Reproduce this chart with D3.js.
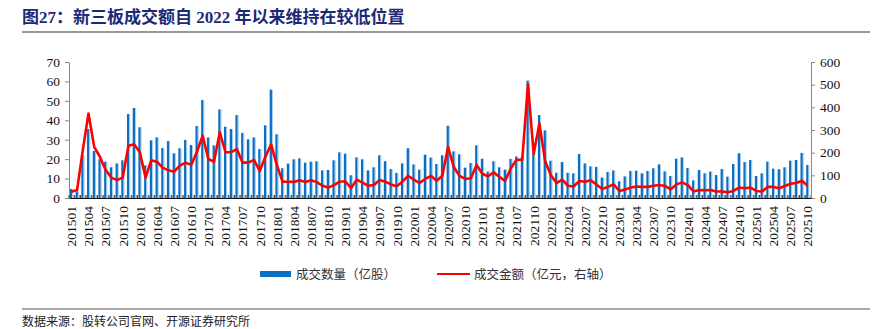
<!DOCTYPE html>
<html>
<head>
<meta charset="utf-8">
<script src="https://cdn.jsdelivr.net/npm/d3@7"></script>
<style>
  body { margin: 0; background: #fff; }
  svg { display: block; }
</style>
</head>
<body>
<svg id="chart"></svg>
<script>
// months 201501 .. 202510
const months = [];
for (let y = 2015; y <= 2025; y++) {
  for (let m = 1; m <= 12; m++) {
    if (y === 2025 && m > 10) break;
    months.push(String(y) + String(m).padStart(2, "0"));
  }
}

// 成交数量（亿股）
const volume = [
  4.6, 3.5, 22, 35.5, 24.2, 20, 18.7, 15.8, 17.8, 19.4, 43.2, 46.3,
  36.4, 16.8, 29.7, 31.2, 25.7, 29.3, 23, 25.6, 29.9, 27.3, 37.1, 50.4,
  31.2, 27.1, 45.6, 36.7, 35.5, 42.7, 33.5, 30.2, 31.2, 25.2, 37.4, 55.8,
  32.8, 15.3, 17.7, 19.9, 20.4, 18.2, 18.7, 18.9, 14.2, 14.4, 19.4, 23.5,
  22.8, 11.7, 20.9, 19.9, 14.2, 15.8, 22, 18.9, 14.9, 12.9, 17.8, 25.6,
  17.3, 14.6, 22.3, 20.8, 17.5, 22, 37.2, 24, 22.5, 15.6, 18, 27.1,
  20.2, 13.6, 18.9, 15.8, 14.6, 20.1, 21.4, 21.4, 60.4, 23, 42.7, 34.8,
  19.2, 13, 18.5, 13, 12.7, 22.6, 17.8, 16.3, 16, 10.5, 13.4, 14.2,
  8.6, 11.1, 13.9, 14.1, 12.7, 13.9, 15.3, 17.3, 13.7, 11.3, 20.2, 20.9,
  15.4, 9.1, 14.4, 12.7, 13.6, 11.8, 14.9, 11, 17.5, 23, 18.5, 19.6,
  11.3, 12.7, 18.7, 15.1, 14.8, 15.8, 19.2, 19.6, 23.2, 17
];

// 成交金额（亿元，右轴）
const amount = [
  28, 35, 210, 373, 226, 182, 124, 90, 79, 90, 231, 237,
  202, 90, 166, 160, 134, 122, 116, 143, 156, 146, 204, 275,
  172, 160, 290, 202, 202, 216, 156, 156, 168, 119, 182, 237,
  146, 72, 72, 71, 78, 71, 78, 70, 54, 46, 57, 72,
  74, 43, 81, 68, 54, 57, 79, 72, 60, 52, 72, 98,
  81, 66, 84, 98, 76, 98, 225, 137, 98, 84, 87, 146,
  107, 96, 113, 93, 75, 131, 169, 169, 501, 195, 329, 163,
  101, 66, 81, 54, 51, 75, 72, 78, 60, 40, 49, 60,
  31, 37, 46, 51, 49, 49, 54, 57, 53, 38, 60, 69,
  57, 29, 35, 34, 35, 29, 29, 25, 31, 46, 43, 46,
  31, 29, 49, 49, 43, 53, 63, 66, 76, 54
];

const leftTicks = [0, 10, 20, 30, 40, 50, 60, 70];
const rightTicks = [0, 100, 200, 300, 400, 500, 600];
const xLabels = months.filter((d, i) => i % 3 === 0);

const width = 896, height = 329;
const margin = {top: 62, right: 85, bottom: 131, left: 69};
const serif = '"Liberation Serif", "Times New Roman", "Noto Sans CJK SC", serif';

const svg = d3.select("#chart").attr("width", width).attr("height", height);

const x = d3.scaleBand()
  .domain(months)
  .range([margin.left, width - margin.right])
  .padding(0);

const yL = d3.scaleLinear().domain([0, 70]).range([height - margin.bottom, margin.top]);
const yR = d3.scaleLinear().domain([0, 600]).range([height - margin.bottom, margin.top]);
const bw = x.bandwidth();

// title + rules
svg.append("text")
  .attr("x", 22).attr("y", 23)
  .attr("font-family", serif)
  .attr("font-weight", "bold")
  .attr("font-size", 17)
  .attr("fill", "#1b2a78")
  .text("图27：新三板成交额自 2022 年以来维持在较低位置");

svg.append("line").attr("x1", 22).attr("x2", 870).attr("y1", 32).attr("y2", 32)
  .attr("stroke", "#333").attr("stroke-width", 1);
svg.append("line").attr("x1", 22).attr("x2", 870).attr("y1", 309).attr("y2", 309)
  .attr("stroke", "#555").attr("stroke-width", 1);

svg.append("text")
  .attr("x", 22).attr("y", 326)
  .attr("font-family", serif)
  .attr("font-size", 12)
  .attr("fill", "#222")
  .text("数据来源：股转公司官网、开源证券研究所");

// bars
const bars = svg.append("g");
bars.selectAll("rect.vol")
  .data(volume)
  .enter().append("rect")
    .attr("class", "vol")
    .attr("x", (d, i) => x(months[i]) + 0.9)
    .attr("y", d => yL(d))
    .attr("width", 2.3)
    .attr("height", d => yL(0) - yL(d))
    .attr("fill", "#0a6fc2");
bars.selectAll("rect.edge")
  .data(volume)
  .enter().append("rect")
    .attr("class", "edge")
    .attr("x", (d, i) => x(months[i]) + 3.2)
    .attr("y", d => yL(d))
    .attr("width", 0.9)
    .attr("height", d => yL(0) - yL(d))
    .attr("fill", "#9cc8ee");
// small grey base marks
bars.selectAll("rect.base")
  .data(months)
  .enter().append("rect")
    .attr("class", "base")
    .attr("x", d => x(d) + 4.3)
    .attr("y", yL(0) - 3)
    .attr("width", 1.2)
    .attr("height", 3)
    .attr("fill", "#a8a8a8");

// left axis
const axL = svg.append("g")
  .attr("transform", `translate(${margin.left},0)`)
  .call(d3.axisLeft(yL).tickValues(leftTicks).tickSize(4).tickSizeOuter(0));
axL.select(".domain").attr("stroke", "#888");
axL.selectAll(".tick line").attr("stroke", "#888");
axL.selectAll("text").attr("font-family", serif).attr("font-size", 13.5).attr("fill", "#111").attr("dx", "-2");

// right axis
const axR = svg.append("g")
  .attr("transform", `translate(${width - margin.right},0)`)
  .call(d3.axisRight(yR).tickValues(rightTicks).tickSize(4).tickSizeOuter(0));
axR.select(".domain").attr("stroke", "#888");
axR.selectAll(".tick line").attr("stroke", "#888");
axR.selectAll("text").attr("font-family", serif).attr("font-size", 13.5).attr("fill", "#111").attr("dx", "2");

// bottom axis: ticks between months, pointing up
const axB = svg.append("g")
  .attr("transform", `translate(0,${yL(0)})`)
  .call(d3.axisBottom(x).tickValues(xLabels).tickSize(0).tickSizeOuter(0));
axB.select(".domain").attr("stroke", "#111").attr("stroke-width", 1.2);
axB.selectAll("text")
  .attr("font-family", serif)
  .attr("font-size", 13.5)
  .attr("fill", "#111")
  .attr("transform", "rotate(-90)")
  .attr("text-anchor", "end")
  .attr("dx", "-0.6em")
  .attr("dy", "0.32em")
  .attr("x", 0).attr("y", 0);
svg.append("g").selectAll("line")
  .data(months)
  .enter().append("line")
    .attr("x1", d => x(d)).attr("x2", d => x(d))
    .attr("y1", yL(0)).attr("y2", yL(0) - 3)
    .attr("stroke", "#111").attr("stroke-width", 0.8);

// line
const line = d3.line()
  .x((d, i) => x(months[i]) + bw / 2 - 0.5)
  .y(d => yR(d));
svg.append("path")
  .datum(amount)
  .attr("d", line)
  .attr("fill", "none")
  .attr("stroke", "#ff0000")
  .attr("stroke-width", 2.6)
  .attr("stroke-linejoin", "round");

// legend
const lg = svg.append("g").attr("font-family", serif).attr("font-size", 12.5).attr("fill", "#333");
lg.append("rect").attr("x", 260).attr("y", 271).attr("width", 31).attr("height", 6).attr("fill", "#0a6fc2");
lg.append("text").attr("x", 296).attr("y", 278.5).text("成交数量（亿股）");
lg.append("line").attr("x1", 437).attr("x2", 470).attr("y1", 274).attr("y2", 274)
  .attr("stroke", "#ff0000").attr("stroke-width", 2.2);
lg.append("text").attr("x", 474).attr("y", 278.5).text("成交金额（亿元，右轴）");
</script>
</body>
</html>
